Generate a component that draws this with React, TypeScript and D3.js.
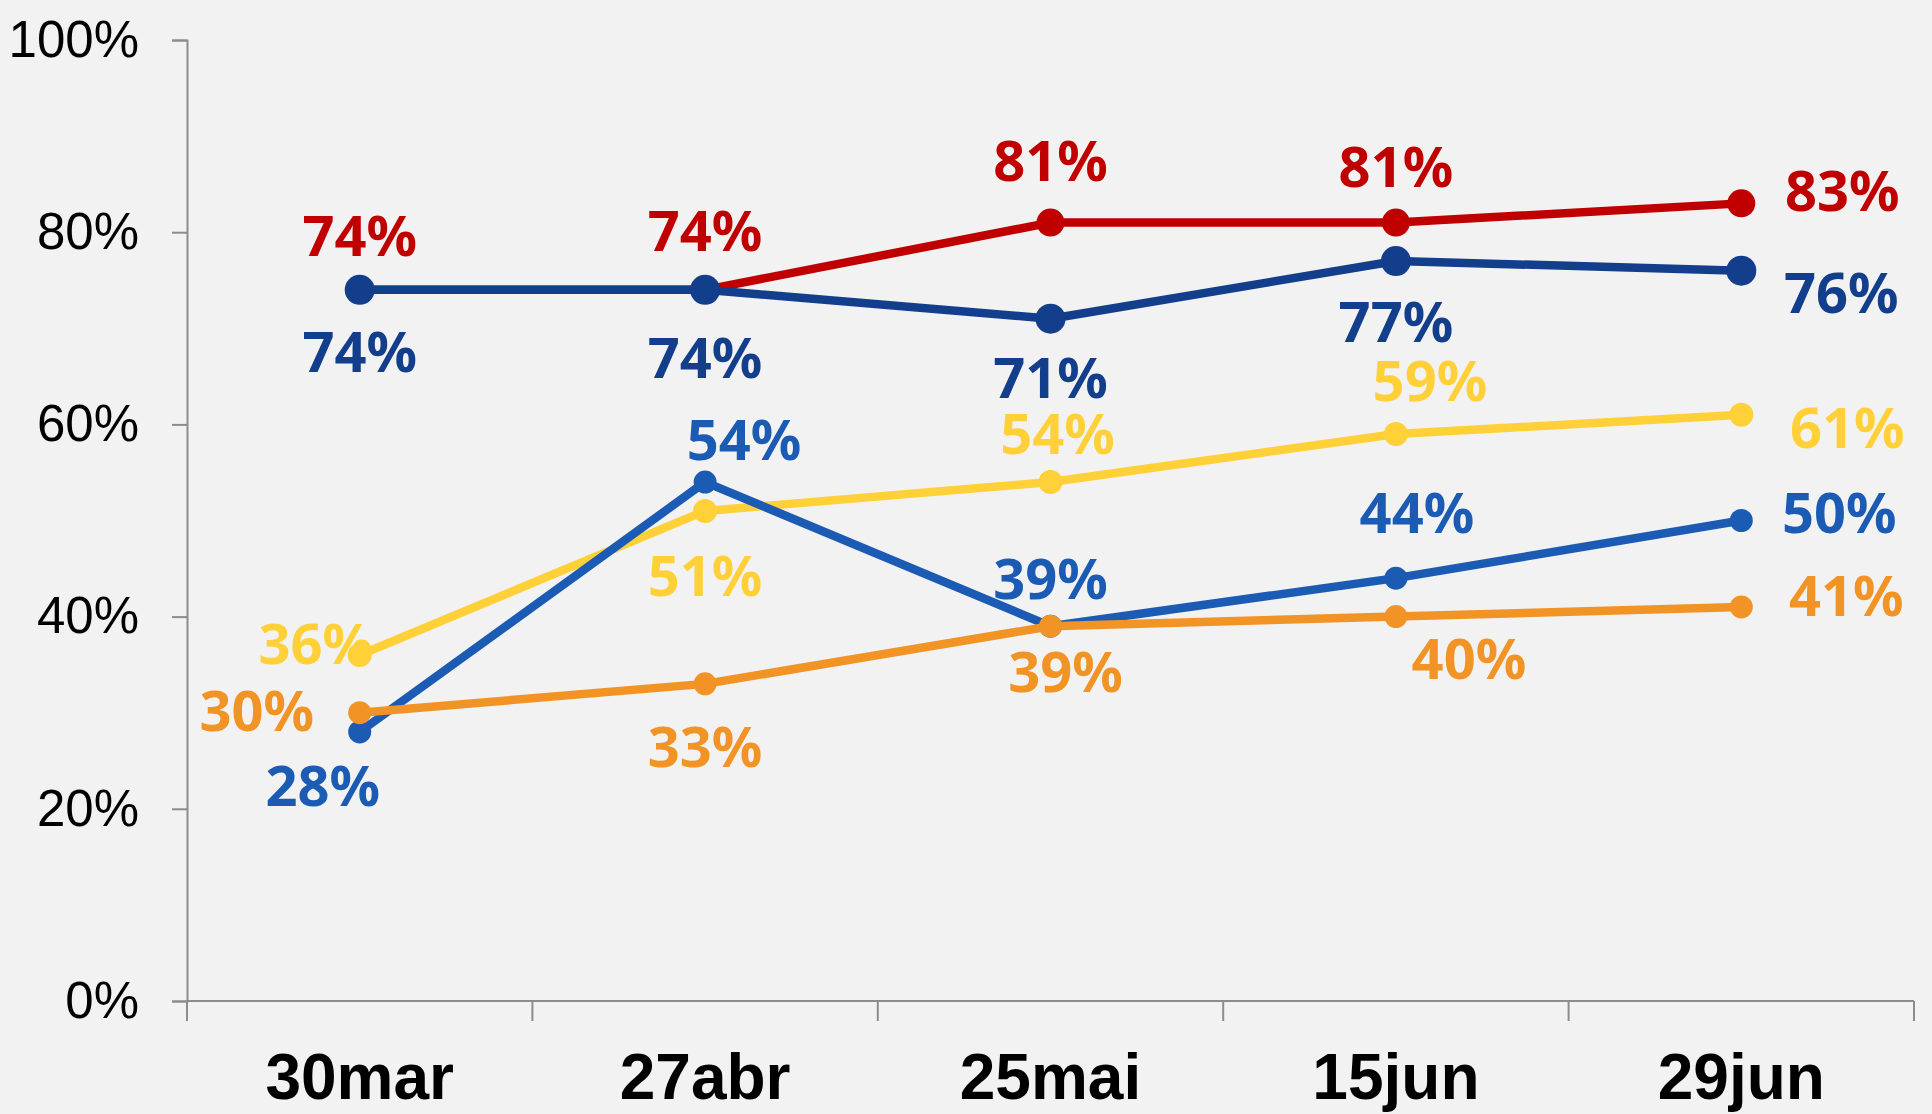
import React, { useRef, useEffect } from "react";
import * as d3 from "d3";

const categories = ["30mar", "27abr", "25mai", "15jun", "29jun"];
const yTicks = [0, 20, 40, 60, 80, 100];

const redValues = [74, 74, 81, 81, 83];
const navyValues = [74, 74, 71, 77, 76];
const yellowValues = [36, 51, 54, 59, 61];
const blueValues = [28, 54, 39, 44, 50];
const orangeValues = [30, 33, 39, 40, 41];

// label placement relative to the point (text centre), px
const redLabelPos = [[0, -54], [0, -59], [0, -62], [0, -56], [101, -13]];
const navyLabelPos = [[0, 62], [0, 68], [0, 59], [0, 61], [100, 22]];
const yellowLabelPos = [[-44, -11], [0, 65], [7, -48], [34, -53], [106, 13]];
const blueLabelPos = [[-37, 54], [39, -42], [0, -47], [21, -65], [98, -8]];
const orangeLabelPos = [[-103, -2], [0, 63], [15, 46], [73, 42], [105, -11]];

interface Series {
  name: string;
  values: number[];
  labels: number[][];
  color: string;
  r: number;
}

const series: Series[] = [
  { name: "yellow", values: yellowValues, labels: yellowLabelPos, color: "#FFD038", r: 12 },
  { name: "blue", values: blueValues, labels: blueLabelPos, color: "#1B5BB4", r: 11.5 },
  { name: "orange", values: orangeValues, labels: orangeLabelPos, color: "#F29325", r: 11.5 },
  { name: "red", values: redValues, labels: redLabelPos, color: "#C00000", r: 14 },
  { name: "navy", values: navyValues, labels: navyLabelPos, color: "#133E8C", r: 15 },
];

const App: React.FC = () => {
  const ref = useRef<SVGSVGElement | null>(null);

  useEffect(() => {
    if (!ref.current) return;
    const svg = d3.select(ref.current);
    svg.selectAll("*").remove();

    const width = 1932;
    const height = 1114;
    const left = 187;
    const right = 1914;
    const top = 40;
    const bottom = 1001;

    svg.append("rect").attr("width", width).attr("height", height).attr("fill", "#F2F2F2");

    const x = d3.scaleBand<string>().domain(categories).range([left, right]).padding(0);
    const y = d3.scaleLinear().domain([0, 100]).range([bottom, top]);
    const cx = (c: string) => (x(c) as number) + x.bandwidth() / 2;

    // y axis
    const yAxis = svg.append("g").attr("transform", `translate(${left},0)`)
      .call(d3.axisLeft(y).tickValues(yTicks).tickSize(15).tickPadding(33).tickFormat((d) => `${d}%`));
    yAxis.select(".domain").attr("stroke", "#8C8C8C").attr("stroke-width", 2);
    yAxis.selectAll(".tick line").attr("stroke", "#8C8C8C").attr("stroke-width", 2);
    yAxis.selectAll(".tick text")
      .attr("fill", "#000")
      .attr("font-family", "'Liberation Sans', Arial, sans-serif")
      .attr("font-size", 51);

    // x axis
    const bounds = categories.map((c) => x(c) as number).concat([right]);
    const xg = svg.append("g");
    xg.append("line").attr("x1", left).attr("x2", right).attr("y1", bottom).attr("y2", bottom)
      .attr("stroke", "#8C8C8C").attr("stroke-width", 2);
    xg.selectAll("line.tk").data(bounds).enter().append("line").attr("class", "tk")
      .attr("x1", (d) => d).attr("x2", (d) => d).attr("y1", bottom).attr("y2", bottom + 20)
      .attr("stroke", "#8C8C8C").attr("stroke-width", 2);
    xg.selectAll("text").data(categories).enter().append("text")
      .attr("x", (d) => cx(d)).attr("y", 1099)
      .attr("text-anchor", "middle")
      .attr("font-family", "'Liberation Sans', Arial, sans-serif")
      .attr("font-weight", "bold")
      .attr("font-size", 64)
      .attr("fill", "#000")
      .text((d) => d);

    const line = d3.line<number>().x((_, i) => cx(categories[i])).y((d) => y(d));

    series.forEach((s) => {
      const g = svg.append("g");
      g.append("path").attr("d", line(s.values)).attr("fill", "none")
        .attr("stroke", s.color).attr("stroke-width", 8.5).attr("stroke-linejoin", "round");
      g.selectAll("circle").data(s.values).enter().append("circle")
        .attr("cx", (_, i) => cx(categories[i])).attr("cy", (d) => y(d))
        .attr("r", s.r).attr("fill", s.color);
    });

    series.forEach((s) => {
      svg.append("g").selectAll("text").data(s.values).enter().append("text")
        .attr("x", (_, i) => cx(categories[i]) + s.labels[i][0])
        .attr("y", (d, i) => y(d) + s.labels[i][1])
        .attr("dy", "0.36em")
        .attr("text-anchor", "middle")
        .attr("font-family", "'Noto Sans', sans-serif")
        .attr("font-weight", 700)
        .attr("font-size", 56)
        .attr("fill", s.color)
        .text((d) => `${d}%`);
    });
  }, []);

  return (
    <svg
      ref={ref}
      width={1932}
      height={1114}
      style={{ position: "absolute", left: 0, top: 0, display: "block" }}
    />
  );
};

export default App;
